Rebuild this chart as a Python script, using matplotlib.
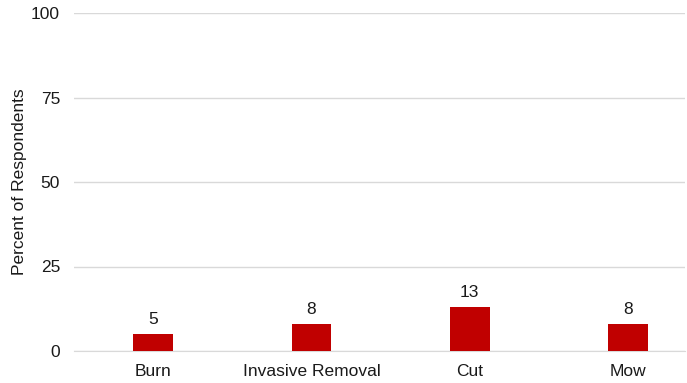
import matplotlib.pyplot as plt

plt.rcParams['font.family'] = ['Liberation Sans', 'DejaVu Sans']

categories = ['Burn', 'Invasive Removal', 'Cut', 'Mow']
percents = [5, 8, 13, 8]
yticks = [0, 25, 50, 75, 100]

fig = plt.figure(figsize=(6.87, 3.83), dpi=100)
ax = fig.add_axes([74 / 687, 1 - 351 / 383, 611 / 687, 338 / 383])

x = range(len(categories))
bars = ax.bar(x, percents, width=0.25, color='#C00000', zorder=3)
for b, v in zip(bars, percents):
    ax.text(b.get_x() + b.get_width() / 2, v + 2.2, str(v), ha='center', va='bottom',
            fontsize=12.5, color='#1a1a1a')

ax.set_xlim(-0.5, 3.36)
ax.set_ylim(0, 100)
ax.set_yticks(yticks)
ax.set_xticks(list(x))
ax.set_xticklabels(categories)
ax.tick_params(axis='both', length=0, labelsize=12.5, colors='#1a1a1a')
ax.tick_params(axis='y', pad=10)
ax.tick_params(axis='x', pad=9)
ax.grid(axis='y', color='#D9D9D9', linewidth=1, zorder=0)
for s in ['top', 'right', 'left']:
    ax.spines[s].set_visible(False)
ax.spines['bottom'].set_color('#D9D9D9')
ax.set_ylabel('Percent of Respondents', fontsize=12.5, color='#1a1a1a', labelpad=3)

fig.savefig('out.png', dpi=100)
